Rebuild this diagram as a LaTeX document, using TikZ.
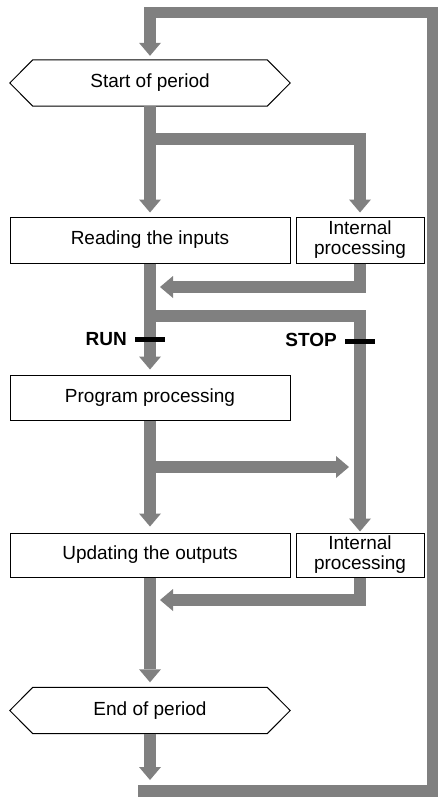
\documentclass[tikz,border=0pt]{standalone}
\usepackage{fontspec}
\setmainfont{Liberation Sans}
\usetikzlibrary{arrows.meta}
\definecolor{flowgray}{RGB}{128,128,128}
\tikzset{
  box/.style={draw,line width=1pt,fill=white,inner sep=0pt,align=center,
    font=\fontsize{19}{20}\selectfont},
  hexbox/.style={inner sep=0pt,minimum width=280pt,minimum height=46pt,
    font=\fontsize{19}{20}\selectfont},
  flow/.style={draw=flowgray,line width=11.5pt},
  flowarrow/.style={flow,-{Triangle[length=13pt,width=22pt,line width=0pt]}},
  switchbar/.style={draw=black,line width=4.5pt},
  switchlabel/.style={anchor=east,inner sep=0pt,
    font=\fontsize{19}{20}\selectfont\bfseries}
}
\begin{document}
\begin{tikzpicture}[x=1pt,y=-1pt]
    \useasboundingbox (0,0) rectangle (438,797);

    % Start and end of period
    \node[hexbox] (start) at (150,83) {Start of period};
    \node[hexbox] (end) at (150,710.5) {End of period};
    \foreach \n in {start,end}
      \draw[line width=1pt] (\n.west) -- ([xshift=23pt]\n.north west)
        -- ([xshift=-23pt]\n.north east) -- (\n.east)
        -- ([xshift=-23pt]\n.south east) -- ([xshift=23pt]\n.south west) -- cycle;

    % Processing boxes
    \node[box,minimum width=280pt,minimum height=46pt] (reading) at (150,240) {Reading the inputs};
    \node[box,minimum width=128pt,minimum height=46pt] (int1) at (360,240) {Internal\\processing};
    \node[box,minimum width=280pt,minimum height=45pt] (program) at (150,397.5) {Program processing};
    \node[box,minimum width=280pt,minimum height=44pt] (updating) at (150,555) {Updating the outputs};
    \node[box,minimum width=128pt,minimum height=44pt] (int2) at (360,555) {Internal\\processing};

    % Points on the main line
    \coordinate (loopin) at (138,791);
    \coordinate (fork1) at (150,139);
    \coordinate (join1) at (150,287);
    \coordinate (fork2) at (150,316);
    \coordinate (tap) at (150,467);
    \coordinate (join2) at (150,600);

    % Cycle loop
    \draw[flowarrow,shorten >=4pt] (loopin) -- (433,791) -- (433,12.5) -- (150,12.5) -- (start.north);

    % Main line
    \draw[flowarrow,shorten >=4pt] (start.south) -- (reading.north);
    \draw[flowarrow,shorten >=5pt] (reading.south) -- (program.north);
    \draw[flowarrow,shorten >=6pt] (program.south) -- (updating.north);
    \draw[flowarrow,shorten >=5pt] (updating.south) -- (end.north);
    \draw[flowarrow,shorten >=11pt] (end.south) -- (loopin -| end.south);

    % Side branches
    \draw[flowarrow,shorten >=4pt] (fork1) -| (int1.north);
    \draw[flowarrow,shorten >=10pt] (int1.south) |- (join1);
    \draw[flowarrow,shorten >=1pt] (fork2) -| (int2.north);
    \draw[flowarrow,shorten >=11pt] (tap) -- (tap -| int2.north);
    \draw[flowarrow,shorten >=10pt] (int2.south) |- (join2);

    % RUN / STOP switches
    \node[switchlabel] (run) at (127,339.5) {RUN};
    \draw[switchbar] ([xshift=8pt]run.east) -- ++(30pt,0);
    \node[switchlabel] (stop) at (337,340) {STOP};
    \draw[switchbar] ([xshift=8pt,yshift=-1.5pt]stop.east) -- ++(30pt,0);
\end{tikzpicture}
\end{document}
